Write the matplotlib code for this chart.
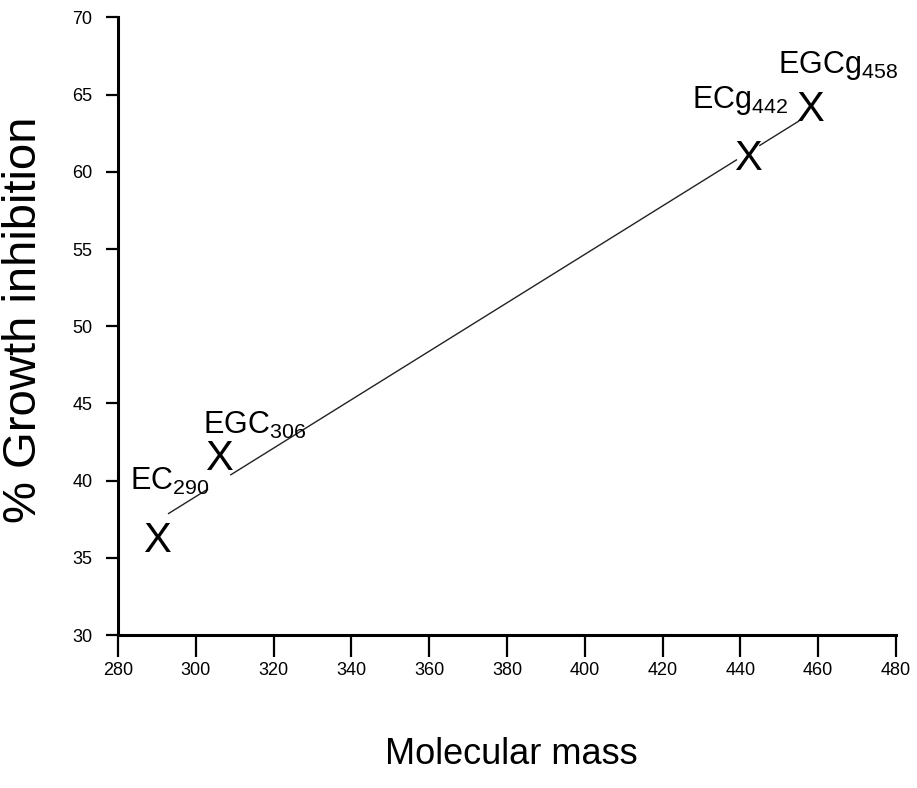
import numpy as np
import matplotlib
matplotlib.use('Agg')
import matplotlib.pyplot as plt

plt.rcParams['font.family'] = ['Liberation Sans', 'DejaVu Sans']
plt.rcParams['mathtext.fontset'] = 'custom'
plt.rcParams['mathtext.rm'] = 'Liberation Sans'
plt.rcParams['mathtext.it'] = 'Liberation Sans'

# Catechins: molecular mass vs growth inhibition
names = ['EC', 'EGC', 'ECg', 'EGCg']
mass = np.array([290, 306, 442, 458])
inhibition = np.array([36.1, 41.4, 60.8, 64.0])

# linear fit drawn between the markers, with small gaps around each one
slope, intercept = np.polyfit(mass, inhibition, 1)
gap = 3.0

fig = plt.figure(figsize=(9.17, 7.88), dpi=100)
ax = fig.add_axes([0.1287, 0.194, 0.8483, 0.784])

for i in range(len(mass) - 1):
    xs = np.array([mass[i] + gap, mass[i + 1] - gap])
    ax.plot(xs, slope * xs + intercept, color='#222222', lw=1.0)

for m, v in zip(mass, inhibition):
    ax.text(m, v, 'X', fontsize=30, ha='center', va='center')

label_offsets = [(-6.8, 3.3), (-4.2, 1.6), (-14.5, 3.3), (-8.3, 2.4)]
for n, m, v, (dx, dy) in zip(names, mass, inhibition, label_offsets):
    ax.text(m + dx, v + dy, n + r'$_{\mathregular{%d}}$' % m, fontsize=22,
            ha='left', va='baseline')

ax.set_xlim(280, 480)
ax.set_ylim(30, 70)
ax.set_xticks(np.arange(280, 481, 20))
ax.set_yticks(np.arange(30, 71, 5))

for s in ['top', 'right']:
    ax.spines[s].set_visible(False)
for s in ['left', 'bottom']:
    ax.spines[s].set_linewidth(2.2)

ax.tick_params(axis='x', length=16, width=1.6, labelsize=13, pad=3)
ax.tick_params(axis='y', length=8.5, width=1.6, labelsize=13, pad=10)

ax.set_xlabel('Molecular mass', fontsize=26)
ax.xaxis.set_label_coords(0.505, -0.165)
ax.set_ylabel('% Growth inhibition', fontsize=34)
ax.yaxis.set_label_coords(-0.093, 0.51)

fig.savefig('out.png', dpi=100)
